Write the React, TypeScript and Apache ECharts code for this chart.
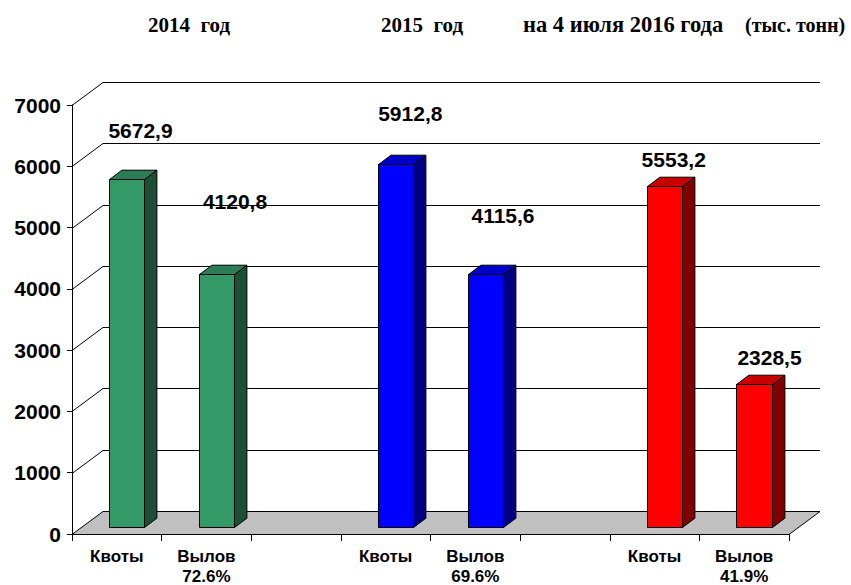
import React, { useEffect, useRef } from "react";
import * as echarts from "echarts";

// ---- data ----
const groupTitles = ["2014  год", "2015  год", "на 4 июля 2016 года"];
const unitTitle = "(тыс. тонн)";
const quotas = [5672.9, 5912.8, 5553.2];
const catches = [4120.8, 4115.6, 2328.5];
const catchShare = ["72.6%", "69.6%", "41.9%"];
const barLabel = ["Квоты", "Вылов"];
const yTicks = [0, 1000, 2000, 3000, 4000, 5000, 6000, 7000];

// ---- styles / layout ----
const groupColors = [
  { front: "#339966", side: "#1D4F36", top: "#2A7D54" },
  { front: "#0000FF", side: "#000080", top: "#0000C8" },
  { front: "#FF0000", side: "#800000", top: "#C80000" },
];
// label offsets (px) from bar front-top centre, in bar order
const labelOffsets = [
  [13.5, -49], [18, -73],
  [14.3, -51], [17, -59],
  [8.7, -27], [15, -27],
];
const titleLayout = [
  { x: 148, size: 21 },
  { x: 381, size: 21 },
  { x: 523, size: 22.5 },
  { x: 745, size: 20 },
];
const WALL_DX = 31, WALL_DY = -23;
const BAR_DX = 12.4, BAR_DY = -9.3;
const BAR_SHIFT_X = 9.9, BAR_SHIFT_Y = -7.3;
const SANS = "'Liberation Sans', Arial, sans-serif";
const SERIF = "'Liberation Serif', 'Times New Roman', serif";

const xLabels: string[] = [];
const barData: any[] = [];
quotas.forEach((q, g) => {
  const base = g * 3;
  xLabels.push(barLabel[0], barLabel[1] + "\n" + catchShare[g]);
  if (g < quotas.length - 1) xLabels.push("");
  barData.push([base, q, g, barData.length]);
  barData.push([base + 1, catches[g], g, barData.length]);
});

const px = (v: number) => Math.round(v) + 0.5;

export default function App() {
  const ref = useRef<HTMLDivElement>(null);
  useEffect(() => {
    document.body.style.margin = "0";
    const chart = echarts.init(ref.current!, null, { renderer: "svg" });
    const titles = [...groupTitles, unitTitle];
    const option: any = {
      animation: false,
      backgroundColor: "#fff",
      grid: { left: 72, top: 105, width: 717, height: 429, outerBoundsMode: "none", containLabel: false },
      graphic: titles.map((t, i) => ({
        type: "text",
        x: titleLayout[i].x,
        y: 24.5,
        style: {
          text: t,
          font: `bold ${titleLayout[i].size}px ${SERIF}`,
          fill: "#000",
          align: "left",
          verticalAlign: "middle",
        },
      })),
      xAxis: {
        type: "category",
        data: xLabels,
        boundaryGap: true,
        axisLine: { show: true, lineStyle: { color: "#000", width: 1 } },
        axisTick: { show: true, length: 7, interval: 0, lineStyle: { color: "#000" } },
        axisLabel: {
          interval: 0,
          color: "#000",
          fontFamily: SANS,
          fontWeight: "bold",
          fontSize: 17,
          lineHeight: 20,
          margin: 12,
        },
        splitLine: { show: false },
      },
      yAxis: {
        type: "value",
        min: 0,
        max: 7000,
        interval: 1000,
        axisLine: { show: true, lineStyle: { color: "#000", width: 1 } },
        axisTick: { show: true, length: 5, lineStyle: { color: "#000" } },
        axisLabel: {
          color: "#000",
          fontFamily: SANS,
          fontWeight: "bold",
          fontSize: 21,
          margin: 11,
          formatter: (v: number) => String(v),
        },
        splitLine: { show: false },
      },
      series: [
        {
          type: "custom",
          z: 1,
          silent: true,
          data: yTicks.map((v) => [0, v]),
          encode: { x: 0, y: 1 },
          renderItem: (params: any, api: any) => {
            const cs = params.coordSys;
            const v = api.value(1);
            const y = px(api.coord([0, v])[1]);
            const x0 = cs.x;
            const x1 = cs.x + cs.width;
            const children: any[] = [];
            if (v === 0) {
              children.push({
                type: "polygon",
                shape: {
                  points: [
                    [x0, y],
                    [x0 + WALL_DX, y + WALL_DY],
                    [x1 + WALL_DX, y + WALL_DY],
                    [x1, y],
                  ],
                },
                style: { fill: "#C0C0C0", stroke: "#000", lineWidth: 1 },
              });
            } else {
              children.push({
                type: "line",
                shape: { x1: x0, y1: y, x2: x0 + WALL_DX, y2: y + WALL_DY },
                style: { stroke: "#000", lineWidth: 1 },
              });
              children.push({
                type: "line",
                shape: { x1: x0 + WALL_DX, y1: y + WALL_DY, x2: x1 + WALL_DX, y2: y + WALL_DY },
                style: { stroke: "#000", lineWidth: 1 },
              });
            }
            return { type: "group", children };
          },
        },
        {
          type: "custom",
          z: 3,
          silent: true,
          data: barData,
          encode: { x: 0, y: 1 },
          renderItem: (params: any, api: any) => {
            const idx = api.value(0);
            const val = api.value(1);
            const g = api.value(2);
            const k = api.value(3);
            const base = api.coord([idx, 0]);
            const topP = api.coord([idx, val]);
            const band = api.size([1, 0])[0];
            const w = band * 0.394;
            const cx = base[0] + BAR_SHIFT_X;
            const xl = px(cx - w / 2);
            const xr = px(cx + w / 2);
            const yb = px(base[1] + BAR_SHIFT_Y);
            const yt = px(topP[1] + BAR_SHIFT_Y);
            const c = groupColors[g];
            const off = labelOffsets[k];
            return {
              type: "group",
              children: [
                {
                  type: "polygon",
                  shape: {
                    points: [
                      [xr, yt],
                      [xr + BAR_DX, yt + BAR_DY],
                      [xr + BAR_DX, yb + BAR_DY],
                      [xr, yb],
                    ],
                  },
                  style: { fill: c.side, stroke: "#000", lineWidth: 1 },
                },
                {
                  type: "polygon",
                  shape: {
                    points: [
                      [xl, yt],
                      [xl + BAR_DX, yt + BAR_DY],
                      [xr + BAR_DX, yt + BAR_DY],
                      [xr, yt],
                    ],
                  },
                  style: { fill: c.top, stroke: "#000", lineWidth: 1 },
                },
                {
                  type: "rect",
                  shape: { x: xl, y: yt, width: xr - xl, height: yb - yt },
                  style: { fill: c.front, stroke: "#000", lineWidth: 1 },
                },
                {
                  type: "text",
                  x: (xl + xr) / 2 + off[0],
                  y: yt + off[1],
                  style: {
                    text: val.toFixed(1).replace(".", ","),
                    font: `bold 21px ${SANS}`,
                    fill: "#000",
                    align: "center",
                    verticalAlign: "middle",
                  },
                },
              ],
            };
          },
        },
      ],
    };
    chart.setOption(option);
    return () => chart.dispose();
  }, []);
  return <div ref={ref} style={{ width: 851, height: 585 }} />;
}
